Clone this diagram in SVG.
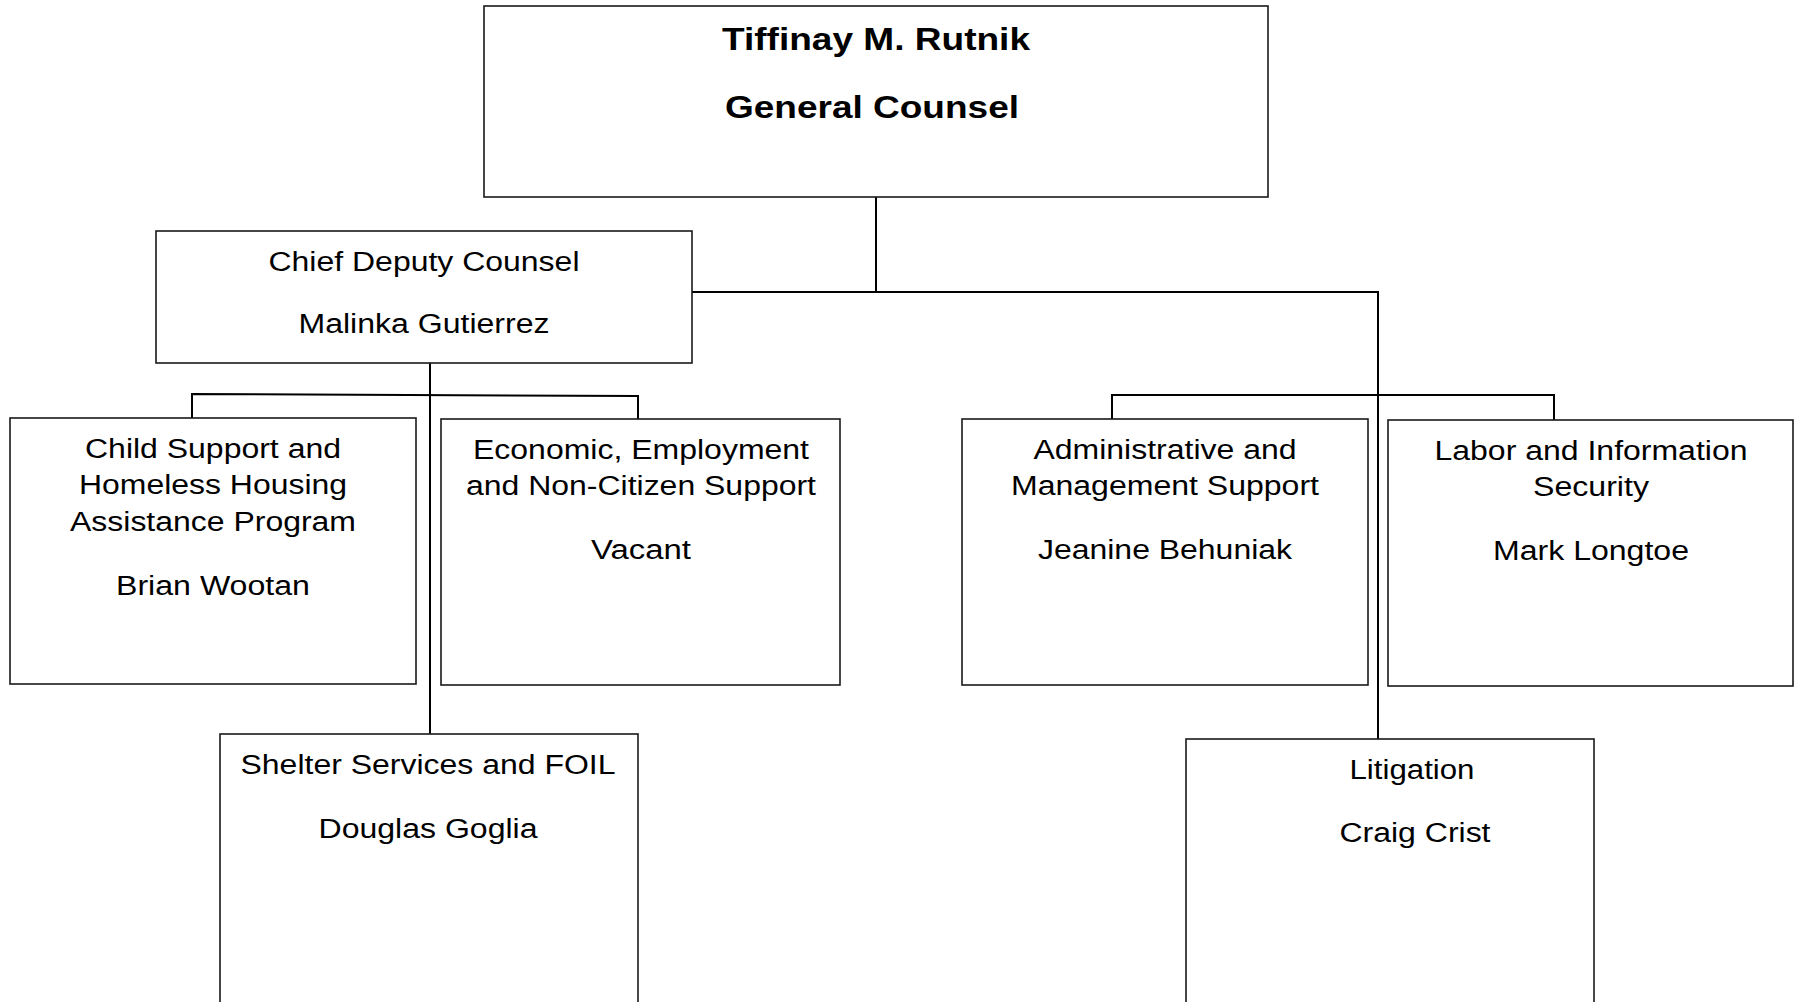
<svg xmlns="http://www.w3.org/2000/svg" width="1794" height="1002" viewBox="0 0 1794 1002">
<style>
.box{fill:#fff;stroke:#1a1a1a;stroke-width:1.6}
.ln{fill:none;stroke:#000;stroke-width:2}
text{font-family:"Liberation Sans",Arial,sans-serif;font-size:27px;fill:#000;text-anchor:middle}
.b{font-weight:bold;font-size:32px}
</style>
<rect width="1794" height="1002" fill="#fff"/>
<g id="connectors">
<path class="ln" d="M876,197 V292 M692,292 H1378 V739"/>
<path class="ln" d="M430,363 V734"/>
<path class="ln" d="M192,418 V394 L638,396 V419"/>
<path class="ln" d="M1112,419 V395 H1554 V420"/>
</g>
<g id="general-counsel">
<rect class="box" x="484" y="6" width="784" height="191"/>
<text class="b" x="876" y="50" textLength="308" lengthAdjust="spacingAndGlyphs">Tiffinay M. Rutnik</text>
<text class="b" x="872" y="118" textLength="294" lengthAdjust="spacingAndGlyphs">General Counsel</text>
</g>
<g id="chief-deputy">
<rect class="box" x="156" y="231" width="536" height="132"/>
<text x="424" y="271" textLength="311" lengthAdjust="spacingAndGlyphs">Chief Deputy Counsel</text>
<text x="424" y="333" textLength="251" lengthAdjust="spacingAndGlyphs">Malinka Gutierrez</text>
</g>
<g id="child-support">
<rect class="box" x="10" y="418" width="406" height="266"/>
<text x="213" y="458" textLength="256" lengthAdjust="spacingAndGlyphs">Child Support and</text>
<text x="213" y="494" textLength="268" lengthAdjust="spacingAndGlyphs">Homeless Housing</text>
<text x="213" y="531" textLength="286" lengthAdjust="spacingAndGlyphs">Assistance Program</text>
<text x="213" y="595" textLength="194" lengthAdjust="spacingAndGlyphs">Brian Wootan</text>
</g>
<g id="economic">
<rect class="box" x="441" y="419" width="399" height="266"/>
<text x="641" y="459" textLength="336" lengthAdjust="spacingAndGlyphs">Economic, Employment</text>
<text x="641" y="495" textLength="350" lengthAdjust="spacingAndGlyphs">and Non-Citizen Support</text>
<text x="641" y="559" textLength="100" lengthAdjust="spacingAndGlyphs">Vacant</text>
</g>
<g id="shelter">
<rect class="box" x="220" y="734" width="418" height="300"/>
<text x="428" y="774" textLength="375" lengthAdjust="spacingAndGlyphs">Shelter Services and FOIL</text>
<text x="428" y="838" textLength="219" lengthAdjust="spacingAndGlyphs">Douglas Goglia</text>
</g>
<g id="administrative">
<rect class="box" x="962" y="419" width="406" height="266"/>
<text x="1165" y="459" textLength="263" lengthAdjust="spacingAndGlyphs">Administrative and</text>
<text x="1165" y="495" textLength="308" lengthAdjust="spacingAndGlyphs">Management Support</text>
<text x="1165" y="559" textLength="254" lengthAdjust="spacingAndGlyphs">Jeanine Behuniak</text>
</g>
<g id="labor">
<rect class="box" x="1388" y="420" width="405" height="266"/>
<text x="1591" y="460" textLength="313" lengthAdjust="spacingAndGlyphs">Labor and Information</text>
<text x="1591" y="496" textLength="116" lengthAdjust="spacingAndGlyphs">Security</text>
<text x="1591" y="560" textLength="196" lengthAdjust="spacingAndGlyphs">Mark Longtoe</text>
</g>
<g id="litigation">
<rect class="box" x="1186" y="739" width="408" height="300"/>
<text x="1412" y="779" textLength="125" lengthAdjust="spacingAndGlyphs">Litigation</text>
<text x="1415" y="842" textLength="151" lengthAdjust="spacingAndGlyphs">Craig Crist</text>
</g>
</svg>
